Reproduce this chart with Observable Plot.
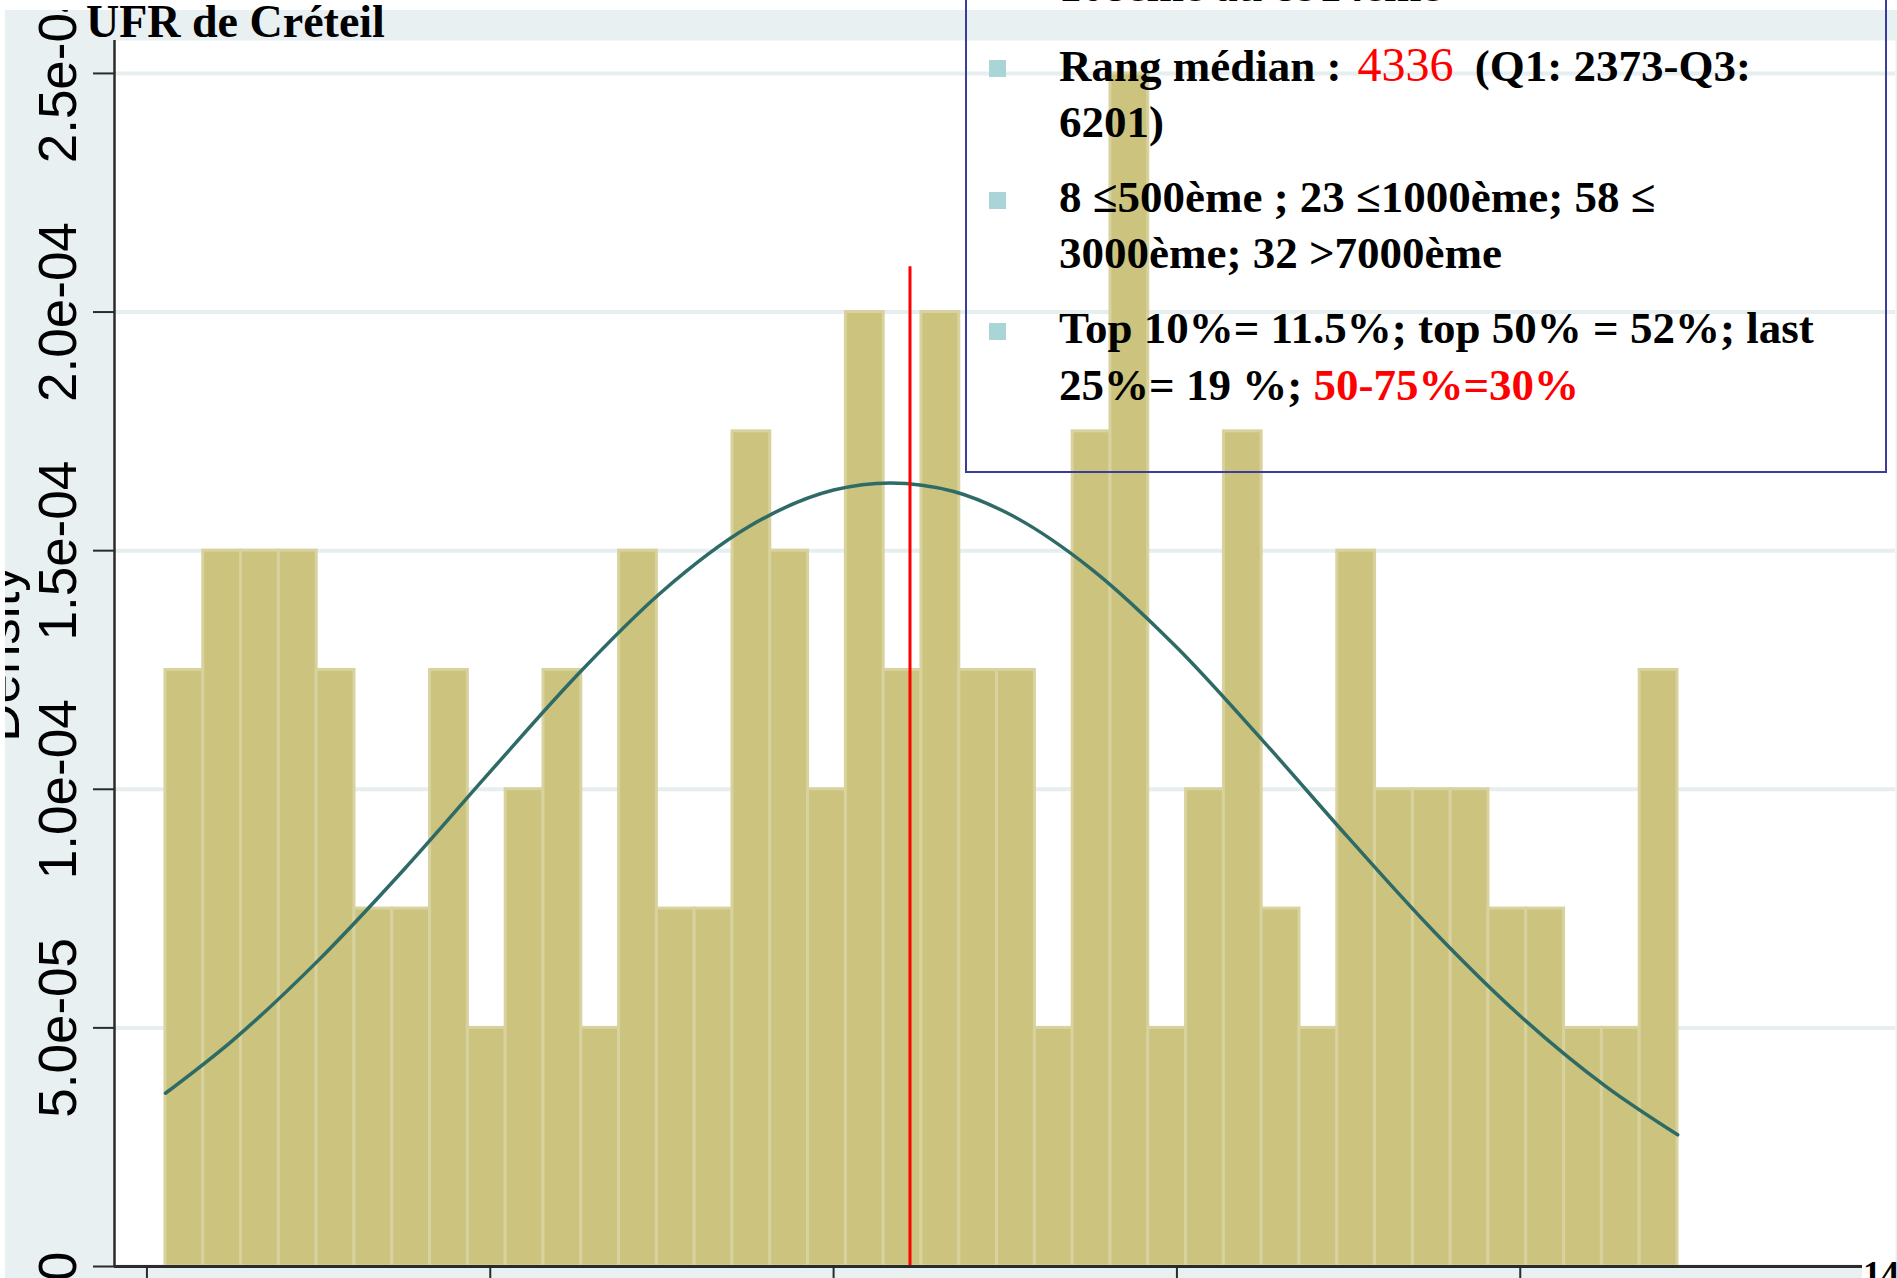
<!DOCTYPE html>
<html>
<head>
<meta charset="utf-8">
<script src="https://cdn.jsdelivr.net/npm/d3@7"></script>
<script src="https://cdn.jsdelivr.net/npm/@observablehq/plot@0.6"></script>
<style>
  html, body { margin: 0; padding: 0; background: #fff; }
  #page { position: relative; width: 1897px; height: 1278px; overflow: hidden; background: #fff; }
  #graph { position: absolute; left: 5px; top: 10px; width: 1892px; height: 1268px; overflow: hidden; background: #e8f0f2; }
  #chart { position: absolute; left: -5px; top: -10px; }
  .serif { font-family: "Liberation Serif", "Times New Roman", serif; font-weight: bold; color: #000; white-space: nowrap; }
  .line { position: absolute; line-height: 0; font-size: 45px; }
  .bullet { position: absolute; width: 17px; height: 17px; background: #a9d5d9; }
  .red { color: #ff0000; }
  .num { font-weight: normal; font-size: 48px; margin-left: 16px; margin-right: 10px; }
</style>
</head>
<body>
<div id="page">
  <div id="graph"><div id="chart"></div></div>
  <div id="overlay"></div>
</div>
<script>
// ---- data ----
// histogram: 40 bins of equal width starting at the lowest rank
const binStart = 108;
const binWidth = 220.2;
const densities = [
  1.25e-4, 1.5e-4, 1.5e-4, 1.5e-4, 1.25e-4, 7.5e-5, 7.5e-5, 1.25e-4, 5e-5, 1e-4,
  1.25e-4, 5e-5, 1.5e-4, 7.5e-5, 7.5e-5, 1.75e-4, 1.5e-4, 1e-4, 2e-4, 1.25e-4,
  2e-4, 1.25e-4, 1.25e-4, 5e-5, 1.75e-4, 2.5e-4, 5e-5, 1e-4, 1.75e-4, 7.5e-5,
  5e-5, 1.5e-4, 1e-4, 1e-4, 1e-4, 7.5e-5, 7.5e-5, 5e-5, 5e-5, 1.25e-4
];
// normal density curve
const curveX = [108, 500, 1000, 1500, 2000, 2500, 3000, 3500, 4000, 4330, 4700, 5000, 5500, 6000, 6500, 7000, 7500, 8000, 8500, 8917];
const curveY = [3.63e-5, 4.74e-5, 6.42e-5, 8.33e-5, 1.037e-4, 1.237e-4, 1.414e-4, 1.549e-4, 1.627e-4, 1.642e-4, 1.624e-4, 1.581e-4, 1.462e-4, 1.297e-4, 1.102e-4, 8.98e-5, 7.01e-5, 5.25e-5, 3.77e-5, 2.76e-5];
// red vertical marker
const markerX = 4445;
const markerTop = 2.095e-4;
// axes
const xTicks = [0, 2000, 4000, 6000, 8000, 10000];
const yTicks = [0, 5e-5, 1e-4, 1.5e-4, 2e-4, 2.5e-4];
const xDomain = [-189, 10186];
const yDomain = [0, 2.569e-4];
const yLabel = "Density";

// ---- build tables ----
const bins = densities.map((d, i) => ({x1: binStart + i * binWidth, x2: binStart + (i + 1) * binWidth, density: d}));
const curve = curveX.map((x, i) => ({x, y: curveY[i]}));
const fmt = d => d === 0 ? "0" : d.toExponential(1).replace(/e([+-])(\d)$/, "e$10$2");

const chart = Plot.plot({
  width: 1897,
  height: 1278,
  marginLeft: 114,
  marginRight: 2,
  marginTop: 40,
  marginBottom: 12,
  style: {background: "transparent", fontFamily: "'Liberation Sans', Arial, sans-serif", fontSize: "53px", color: "#000"},
  x: {domain: xDomain},
  y: {domain: yDomain},
  marks: [
    Plot.frame({fill: "white", stroke: null}),
    Plot.gridY(yTicks, {stroke: "#e6eef0", strokeOpacity: 1, strokeWidth: 4}),
    Plot.rect(bins, {x1: "x1", x2: "x2", y1: 0, y2: "density", fill: "#cbc37e", stroke: "#d8d29e", strokeWidth: 3}),
    Plot.line(curve, {x: "x", y: "y", stroke: "#2e6b66", strokeWidth: 3.5, curve: "monotone-x"}),
    Plot.ruleX([{x: markerX, top: markerTop}], {x: "x", y1: 0, y2: "top", stroke: "#ff0000", strokeWidth: 3}),
    Plot.ruleX([xDomain[0]], {stroke: "#2b2b2b", strokeWidth: 2.5}),
    Plot.ruleY([0], {stroke: "#2b2b2b", strokeWidth: 3}),
    Plot.axisY({ticks: yTicks, tickFormat: fmt, tickSize: 21, tickPadding: 18, tickRotate: -90, label: null, strokeWidth: 2, stroke: "#2b2b2b"}),
    Plot.axisX({ticks: xTicks, tickSize: 14, tickPadding: 4, label: null, tickFormat: d => String(d), strokeWidth: 2, stroke: "#2b2b2b"}),
    Plot.text([yLabel], {text: d => d, frameAnchor: "left", textAnchor: "middle", dx: -96, rotate: -90, lineAnchor: "bottom", fontSize: 53, fill: "#000"})
  ]
});
document.getElementById("chart").appendChild(chart);

// ---- slide overlays (title text, text box, page number) ----
const ov = document.getElementById("overlay");
const asc = 0.3375; // baseline offset factor for line-height:0 in Liberation Serif
function addLine(left, baseline, size, html, cls) {
  const d = document.createElement("div");
  d.className = "serif line " + (cls || "");
  d.style.left = left + "px";
  d.style.fontSize = size + "px";
  d.style.top = (baseline - asc * size) + "px";
  d.innerHTML = html;
  ov.appendChild(d);
}
function addBullet(baseline) {
  const b = document.createElement("div");
  b.className = "bullet";
  b.style.left = "989px";
  b.style.top = (baseline - 20) + "px";
  ov.appendChild(b);
}
// text box frame
const box = document.createElement("div");
box.style.cssText = "position:absolute;left:965px;top:-40px;width:922px;height:513px;border:2px solid #3c3c9c;box-sizing:border-box;";
ov.appendChild(box);

addLine(86, 38, 46, "UFR de Créteil");

addLine(1059, 1, 45, "108ème au 8914ème");
addBullet(80);
addLine(1059, 80, 45, 'Rang médian :<span class="red num">4336</span> (Q1: 2373-Q3:');
addLine(1059, 137, 45, "6201)");
addBullet(212);
addLine(1059, 212, 45, "8 ≤500ème ; 23 ≤1000ème; 58 ≤");
addLine(1059, 268, 45, "3000ème; 32 &gt;7000ème");
addBullet(343);
addLine(1059, 343, 45, "Top 10%= 11.5%; top 50% = 52%; last");
addLine(1059, 400, 45, '25%= 19 %; <span class="red">50-75%=30%</span>');

// page number, partly out of view
const pn = document.createElement("div");
pn.style.cssText = "position:absolute;left:1862px;top:1262px;width:33px;height:16px;background:#fff;overflow:hidden;";
ov.appendChild(pn);
addLine(1863, 1286, 36, "14");
</script>
</body>
</html>
